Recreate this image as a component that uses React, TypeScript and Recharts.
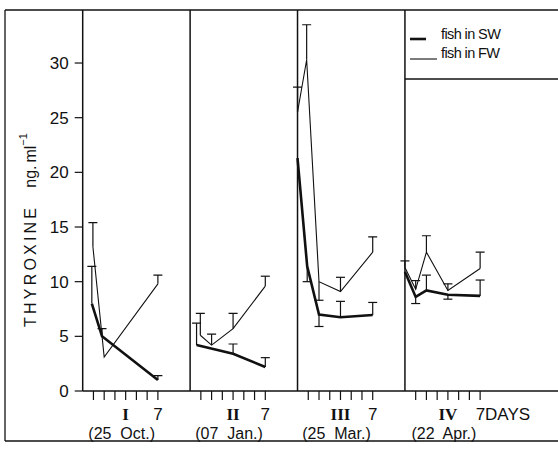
import { LineChart, Line, XAxis, YAxis, ErrorBar, ReferenceLine } from 'recharts'

// each panel runs 10 days along one shared x axis
const PANEL_DAYS = 10
const PANELS = ['I', 'II', 'III', 'IV']
const DATES = ['(25  Oct.)', '(07  Jan.)', '(25  Mar.)', '(22  Apr.)']
const TICK_DAYS = [1, 2, 3, 4, 5, 6, 7]
const Y_TICKS = [0, 5, 10, 15, 20, 25, 30]

// day, mean, lower error, upper error
const SW_I = [
  { day: 0.85, v: 8.0, lo: 0, hi: 3.4 },
  { day: 1.8, v: 5.0, lo: 0, hi: 0.7 },
  { day: 7, v: 1.0, lo: 0, hi: 0.4 },
]
const SW_II = [
  { day: 0.6, v: 4.2, lo: 0, hi: 2.0 },
  { day: 4, v: 3.4, lo: 0, hi: 0.9 },
  { day: 7, v: 2.2, lo: 0, hi: 0.85 },
]
const SW_III = [
  { day: 0, v: 21.3, lo: 0, hi: 0 },
  { day: 0.9, v: 11.4, lo: 1.4, hi: 0 },
  { day: 2, v: 7.0, lo: 1.1, hi: 0 },
  { day: 4, v: 6.75, lo: 0, hi: 1.45 },
  { day: 7, v: 6.95, lo: 0, hi: 1.15 },
]
const SW_IV = [
  { day: 0, v: 10.9, lo: 0, hi: 0 },
  { day: 1, v: 8.6, lo: 0.6, hi: 0 },
  { day: 2, v: 9.2, lo: 0, hi: 1.4 },
  { day: 4, v: 8.8, lo: 0.4, hi: 0 },
  { day: 7, v: 8.7, lo: 0, hi: 1.45 },
]

const FW_I = [
  { day: 0.95, v: 13.2, lo: 0, hi: 2.2 },
  { day: 2, v: 3.1, lo: 0, hi: 0 },
  { day: 7, v: 9.8, lo: 0, hi: 0.8 },
]
const FW_II = [
  { day: 0.95, v: 5.1, lo: 0, hi: 2.0 },
  { day: 2, v: 4.2, lo: 0, hi: 1.0 },
  { day: 4, v: 5.7, lo: 0, hi: 1.4 },
  { day: 7, v: 9.6, lo: 0, hi: 0.9 },
]
const FW_III = [
  { day: 0, v: 25.5, lo: 0, hi: 2.3 },
  { day: 0.85, v: 30.3, lo: 0, hi: 3.2 },
  { day: 2, v: 10.0, lo: 1.7, hi: 0 },
  { day: 4, v: 9.1, lo: 0, hi: 1.3 },
  { day: 7, v: 12.7, lo: 0, hi: 1.4 },
]
const FW_IV = [
  { day: 0, v: 11.3, lo: 0, hi: 0.6 },
  { day: 1, v: 9.3, lo: 0, hi: 0.8 },
  { day: 2, v: 12.7, lo: 0, hi: 1.5 },
  { day: 4, v: 9.2, lo: 0, hi: 0.6 },
  { day: 7, v: 11.2, lo: 0, hi: 1.5 },
]

const SW = [SW_I, SW_II, SW_III, SW_IV]
const FW = [FW_I, FW_II, FW_III, FW_IV]

type Row = { day: number; v: number; lo: number; hi: number }

const toSeries = (rows: Row[], p: number) =>
  rows.map((r) => ({ x: p * PANEL_DAYS + r.day, v: r.v, err: [r.lo, r.hi] }))

// cap positions at the end of each error bar
const toCaps = (rows: Row[], p: number) =>
  rows.flatMap((r) => {
    const out = []
    if (r.hi > 0) out.push({ x: p * PANEL_DAYS + r.day, v: r.v + r.hi })
    if (r.lo > 0) out.push({ x: p * PANEL_DAYS + r.day, v: r.v - r.lo })
    return out
  })

const allCaps = [...SW, ...FW].flatMap((rows, i) => toCaps(rows, i % PANELS.length))
const xTicks = PANELS.flatMap((_, p) => TICK_DAYS.map((d) => p * PANEL_DAYS + d))

const FONT = '"Liberation Sans", Arial, sans-serif'
const INK = '#111'

function renderCap(props: any) {
  const { cx, cy, index } = props
  if (cx == null || cy == null) return <g key={index} />
  return <line key={index} x1={cx - 4.5} x2={cx + 4.5} y1={cy} y2={cy} stroke={INK} strokeWidth={1.2} />
}

function DayTick(props: any) {
  const { x, y, payload } = props
  const panel = Math.floor(payload.value / PANEL_DAYS)
  const day = Math.round(payload.value - panel * PANEL_DAYS)
  if (day === 4) {
    return (
      <g>
        <text x={x} y={y + 18} textAnchor="middle" fontFamily='"Liberation Serif", serif' fontSize={17} fontWeight="bold" fill={INK}>
          {PANELS[panel]}
        </text>
        <text x={x - 4} y={y + 37} textAnchor="middle" fontFamily={FONT} fontSize={16} fill={INK} style={{ whiteSpace: 'pre' }}>
          {DATES[panel]}
        </text>
      </g>
    )
  }
  if (day === 7) {
    const last = panel === PANELS.length - 1
    return (
      <text x={last ? x - 4.5 : x} y={y + 18} textAnchor={last ? 'start' : 'middle'} fontFamily={FONT} fontSize={17} fill={INK}>
        {last ? '7DAYS' : '7'}
      </text>
    )
  }
  return <g />
}

export default function App() {
  return (
    <div style={{ position: 'absolute', left: 0, top: 0, background: '#fff' }}>
      <LineChart width={558} height={450} margin={{ top: 10, right: 0, bottom: 10, left: 0 }}>
        <XAxis
          dataKey="x"
          type="number"
          domain={[0, 44.25]}
          ticks={xTicks}
          interval={0}
          allowDataOverflow
          height={49}
          tickSize={9}
          tickMargin={2}
          tick={DayTick}
          axisLine={{ stroke: INK, strokeWidth: 1.5 }}
          tickLine={{ stroke: INK, strokeWidth: 1.2 }}
        />
        <YAxis
          type="number"
          domain={[0, 34.85]}
          ticks={Y_TICKS}
          interval={0}
          allowDataOverflow
          width={82.7}
          tickSize={8}
          tickMargin={6}
          tick={{ fill: INK, fontSize: 17, fontFamily: FONT }}
          axisLine={{ stroke: INK, strokeWidth: 1.5 }}
          tickLine={{ stroke: INK, strokeWidth: 1.2 }}
        />
        {PANELS.slice(1).map((_, i) => (
          <ReferenceLine key={i} x={(i + 1) * PANEL_DAYS} stroke={INK} strokeWidth={1.5} />
        ))}
        {SW.map((rows, p) => (
          <Line
            key={'sw' + p}
            data={toSeries(rows, p)}
            dataKey="v"
            type="linear"
            stroke={INK}
            strokeWidth={2.6}
            dot={false}
            activeDot={false}
            legendType="none"
            isAnimationActive={false}
          >
            <ErrorBar dataKey="err" width={0} stroke={INK} strokeWidth={1.2} direction="y" isAnimationActive={false} />
          </Line>
        ))}
        {FW.map((rows, p) => (
          <Line
            key={'fw' + p}
            data={toSeries(rows, p)}
            dataKey="v"
            type="linear"
            stroke={INK}
            strokeWidth={1.1}
            dot={false}
            activeDot={false}
            legendType="none"
            isAnimationActive={false}
          >
            <ErrorBar dataKey="err" width={0} stroke={INK} strokeWidth={1.2} direction="y" isAnimationActive={false} />
          </Line>
        ))}
        <Line
          data={allCaps}
          dataKey="v"
          stroke="none"
          dot={renderCap}
          activeDot={false}
          legendType="none"
          isAnimationActive={false}
        />

        {/* frame and legend box */}
        <g stroke={INK} strokeWidth={1.3} fill="none">
          <line x1={5} y1={10} x2={558} y2={10} />
          <line x1={5} y1={10} x2={5} y2={441} />
          <line x1={5} y1={441} x2={558} y2={441} />
          <line x1={405} y1={79} x2={558} y2={79} />
        </g>
        <g fontFamily={FONT} fontSize={14.5} fill={INK}>
          <line x1={410} x2={426} y1={39} y2={39} stroke={INK} strokeWidth={2.6} />
          <text x={441} y={39} letterSpacing={-0.6}>fish in SW</text>
          <line x1={410} x2={437} y1={59} y2={59} stroke={INK} strokeWidth={1.1} />
          <text x={441} y={58} letterSpacing={-0.6}>fish in FW</text>
        </g>
        <text
          x={30}
          y={230}
          transform="rotate(-90 30 230)"
          textAnchor="middle"
          dominantBaseline="central"
          fontFamily={FONT}
          fontSize={16}
          fill={INK}
        >
          <tspan letterSpacing={3.2}>THYROXINE</tspan>
          <tspan dx={17}>ng.</tspan>
          <tspan dx={3}>ml</tspan>
          <tspan dy={-7} fontSize={11}>−1</tspan>
        </text>
      </LineChart>
    </div>
  )
}
